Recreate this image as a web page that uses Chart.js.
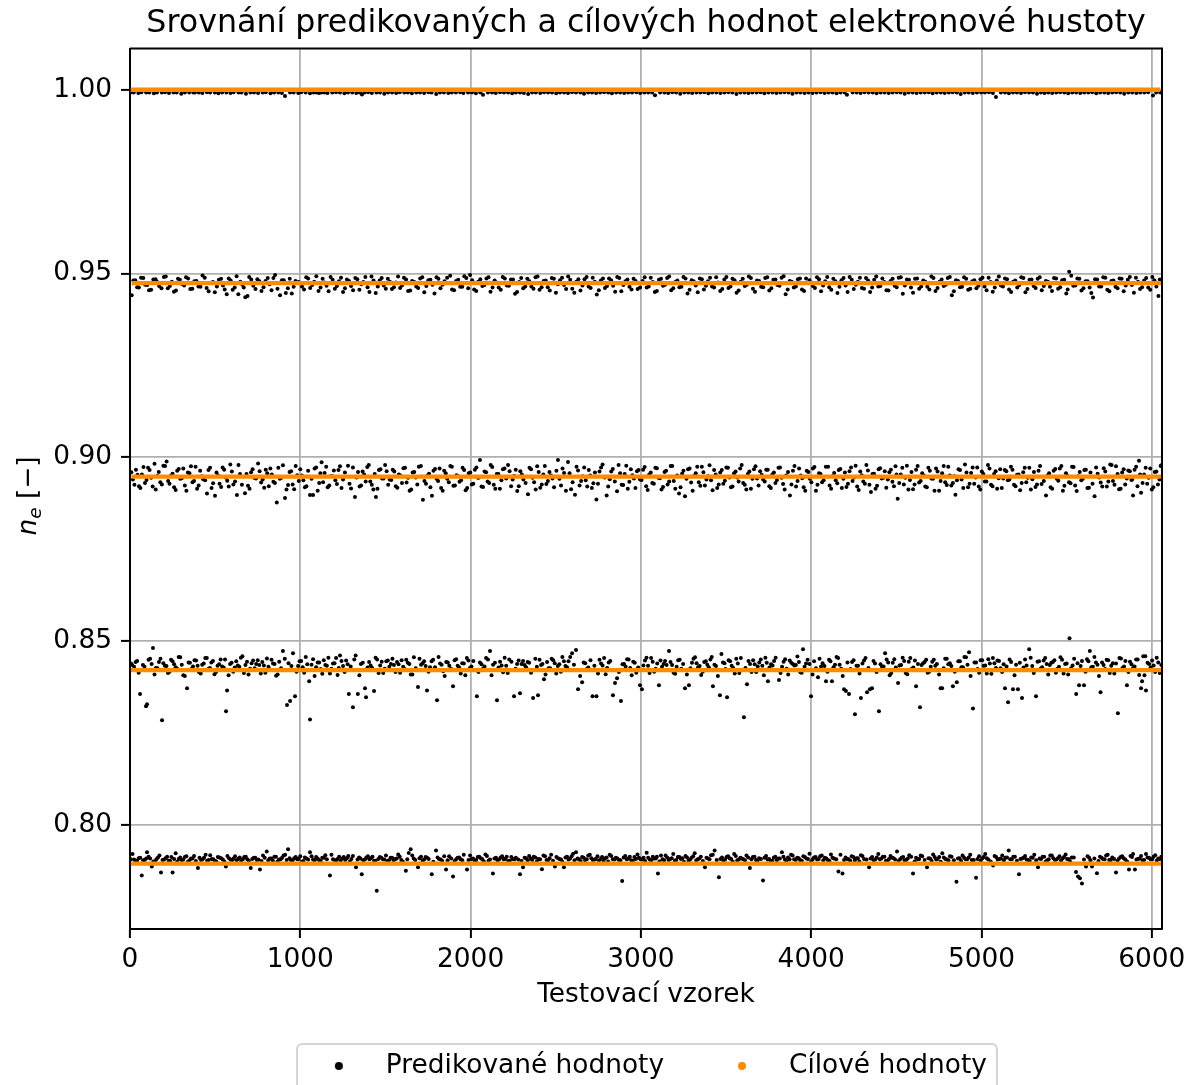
<!DOCTYPE html>
<html>
<head>
<meta charset="utf-8">
<script src="https://cdn.jsdelivr.net/npm/chart.js@4.4.1/dist/chart.umd.min.js"></script>
<style>
html,body{margin:0;padding:0;background:#fff;}
#wrap{width:1197px;height:1085px;position:relative;}
</style>
</head>
<body>
<div id="wrap"><canvas id="c" width="1197" height="1085"></canvas></div>
<script>
// ---------- texts ----------
const TITLE = 'Srovnání predikovaných a cílových hodnot elektronové hustoty';
const X_LABEL = 'Testovací vzorek';
const SERIES_NAMES = ['Predikované hodnoty', 'Cílové hodnoty'];

// ---------- axes ----------
const X_TICKS = [0, 1000, 2000, 3000, 4000, 5000, 6000];
const Y_TICKS = [0.80, 0.85, 0.90, 0.95, 1.00];
const X_MAX = 6060;
const Y_MIN = 0.7717, Y_MAX = 1.0112;

// ---------- target levels (cílové hodnoty) ----------
const TARGET_LEVELS = [1.0, 0.947368, 0.894737, 0.842105, 0.789474];

// ---------- samples per level: [sample index, predicted − target in units of 1e-4] ----------
const samplesL1 = [
[4,-8],[22,-8],[49,-9],[67,-7],[95,-8],[113,-8],[140,-10],[158,-8],[187,-8],[206,-7],[229,-9],[255,-8],[274,-8],[301,-11],[322,-8],[348,-8],
[404,-8],[425,-9],[452,-7],[470,-8],[498,-8],[519,-10],[541,-8],[566,-8],[590,-9],[608,-7],[637,-8],[655,-8],[681,-11],[707,-8],[728,-8],[752,-9],[779,-8],[797,-7],[825,-10],[846,-8],[871,-8],[892,-9],[910,-17],[940,-8],[961,-8],[988,-9],[1006,-7],[1031,-8],[1057,-10],[1078,-8],[1096,-8],
[1142,-8],[1160,-9],[1188,-8],[1210,-7],[1233,-8],[1259,-10],[1280,-8],[1305,-8],[1329,-9],[1350,-8],[1362,-13],[1377,-8],[1398,-7],[1420,-9],[1447,-8],[1468,-8],[1493,-11],[1515,-8],[1539,-8],[1563,-9],[1584,-7],[1611,-8],[1632,-8],[1655,-10],[1681,-8],[1703,-8],[1727,-9],[1752,-7],[1771,-8],[1798,-12],[1820,-8],[1843,-8],[1869,-9],[1890,-8],[1914,-8],[1939,-7],[1958,-9],[1985,-8],[2008,-8],[2031,-10],[2057,-8],[2073,-14],[2102,-8],[2126,-8],[2148,-9],[2173,-7],[2196,-8],[2220,-8],[2244,-10],[2266,-8],[2290,-8],[2313,-9],[2338,-12],[2361,-8],[2383,-8],[2409,-9],[2431,-7],[2455,-8],[2478,-8],[2503,-10],[2525,-8],[2549,-8],[2572,-9],[2596,-7],[2619,-8],[2644,-8],[2666,-11],[2690,-8],[2713,-8],[2737,-9],[2761,-8],[2784,-7],[2808,-8],[2830,-10],[2855,-8],[2878,-8],[2902,-9],[2925,-8],[2948,-8],[2973,-7],[2996,-9],
[3020,-8],[3043,-8],[3066,-8],[3083,-15],[3113,-8],[3138,-8],[3160,-9],[3184,-7],[3207,-8],[3231,-11],[3255,-8],[3278,-8],[3301,-9],[3326,-8],[3349,-8],[3372,-7],[3396,-10],[3419,-8],[3443,-8],[3467,-9],[3490,-8],[3513,-7],[3537,-8],[3561,-12],[3584,-8],[3608,-8],[3631,-9],[3654,-8],[3679,-8],[3702,-7],[3725,-10],[3749,-8],[3773,-8],[3796,-9],[3819,-8],[3843,-7],[3867,-8],[3890,-11],[3914,-8],[3937,-8],[3961,-9],[3984,-8],
[4008,-9],[4031,-8],[4055,-7],[4079,-9],[4102,-8],[4125,-8],[4149,-10],[4172,-8],[4196,-8],[4210,-14],[4243,-8],[4267,-8],[4290,-9],[4313,-7],[4337,-8],[4361,-8],[4384,-10],[4408,-8],[4431,-8],[4455,-9],[4478,-8],[4502,-7],[4525,-8],[4549,-11],[4572,-8],[4596,-8],[4619,-9],[4643,-8],[4667,-8],[4690,-7],[4713,-10],[4737,-8],[4761,-8],[4784,-9],[4808,-8],[4831,-7],[4855,-8],[4878,-12],[4902,-8],[4925,-8],[4949,-9],
[4973,-8],[4998,-8],[5020,-8],[5044,-7],[5067,-9],[5085,-20],[5114,-8],[5138,-8],[5161,-10],[5185,-8],[5208,-8],[5232,-9],[5255,-7],[5279,-8],[5302,-8],[5326,-11],[5349,-8],
[5370,-9],[5392,-8],[5415,-9],[5439,-8],[5462,-7],[5486,-8],[5509,-10],[5533,-8],[5556,-8],[5580,-9],[5603,-8],[5627,-8],[5650,-7],[5674,-10],[5697,-8],[5721,-8],[5744,-9],[5768,-8],[5791,-7],[5815,-8],[5838,-11],[5862,-8],[5885,-8],[5909,-9],[5932,-8],[5956,-8],[5979,-7],[6007,-16],[6026,-8],[6050,-8],
[372,-8],[381,-8],[1110,-9],[1124,-8]
];

const samplesL2 = [
[10,-33],[31,8],[52,-12],[78,14],[101,-5],[124,-18],[150,11],[171,-8],[199,17],[222,-14],[246,4],[270,-20],[293,9],[318,-6],[341,13],[366,-15],[390,6],[414,-10],[439,15],[462,-22],[487,3],[510,-9],[535,12],[556,-17],[568,-30],[591,7],[615,-12],[626,19],[636,-30],[660,-4],[677,-38],[690,-35],[712,10],[737,-16],[760,5],[784,-11],[809,14],[831,-19],[852,22],[881,-33],[903,8],[927,-14],[950,-28],[972,6],
[1010,-9],[1035,16],[1058,-13],[1082,4],[1107,-21],[1131,12],[1154,-7],[1178,17],[1203,-15],[1227,5],[1251,-24],[1274,10],[1298,-8],[1323,14],[1347,-18],[1370,3],[1395,-11],[1418,18],[1443,-27],[1466,7],[1490,-6],[1514,12],[1538,-16],[1561,2],[1586,-13],[1609,15],[1633,-21],[1657,6],[1681,-9],[1704,13],[1728,-25],[1752,8],[1776,-4],[1800,16],[1823,-14],[1847,5],[1880,20],[1903,-19],[1927,9],[1951,-10],[1975,14],[1997,22],[2021,-17],[2045,4],[2069,-8],[2093,13],[2117,-23],[2141,7],[2165,-12],[2189,17],[2213,-6],[2237,10],[2261,-29],[2285,3],[2309,-14],[2333,12],
[2357,-9],[2381,16],[2405,-18],[2429,6],[2453,-11],[2477,14],[2501,-26],[2525,8],[2549,-5],[2573,18],[2597,-15],[2621,4],[2645,-20],[2669,11],[2693,-9],[2717,15],[2741,-31],[2765,7],[2789,-13],[2813,13],[2837,-7],[2861,17],[2885,-22],[2909,5],[2933,-10],[2957,12],[2981,-16],
[3010,6],[3034,-12],[3058,15],[3082,-24],[3106,9],[3130,-7],[3154,14],[3178,-19],[3202,3],[3226,-11],[3250,17],[3274,-28],[3298,8],[3322,-6],[3346,13],[3370,-17],[3394,5],[3418,-9],[3442,16],[3466,-21],[3490,10],[3514,-13],[3538,12],[3562,-26],[3586,4],[3610,-8],[3634,18],[3658,-15],[3682,7],[3706,-10],[3730,14],[3754,-20],[3778,9],[3802,-5],[3826,15],[3850,-30],[3874,6],[3898,-12],[3922,11],[3946,-17],[3970,13],
[4010,-8],[4034,16],[4058,-22],[4082,5],[4106,-11],[4130,12],[4154,-27],[4178,8],[4202,-6],[4226,17],[4250,-16],[4274,4],[4298,-13],[4322,14],[4346,-24],[4370,9],[4394,-9],[4418,13],[4442,-19],[4466,6],[4490,-7],[4514,15],[4538,-29],[4562,10],[4586,-12],[4610,12],[4634,-15],[4658,7],[4682,-10],[4706,18],[4730,-21],[4754,4],[4778,-8],[4802,14],[4826,-33],[4850,8],[4874,-11],[4898,16],[4922,-18],[4946,5],[4970,-14],
[4994,11],[5018,-9],[5042,15],[5066,-23],[5090,7],[5114,-6],[5138,13],[5162,-17],[5186,4],[5210,-12],[5234,16],[5258,-25],[5282,9],[5306,-8],[5330,12],[5354,-19],[5378,6],[5402,-10],[5426,14],[5450,-15],[5474,8],[5498,-28],[5515,31],[5539,-7],[5563,13],[5587,-20],[5611,5],[5635,-12],[5655,-39],[5679,10],[5703,-9],[5727,15],[5751,-22],[5775,7],[5799,-14],[5823,12],[5847,-6],[5871,17],[5895,-26],[5919,4],[5943,-11],[5967,14],[5991,-18],[6015,8],[6039,-35],[6055,5]
];
const samplesL2b = [
[20,7],[42,-11],[65,15],[89,-4],[112,-19],[137,10],[160,3],[185,-14],[210,18],[234,-8],[258,-23],[282,12],[305,-2],[329,16],[354,-16],[378,5],[402,-9],[426,21],[450,-13],[475,1],[498,-25],[522,9],[546,-6],[580,13],[603,-18],[648,4],[668,-12],[700,17],[724,-7],[748,11],[772,-21],[796,6],[820,-3],[842,14],[866,-15],[892,8],[915,-27],[938,12],[961,-10],[990,3],[1022,-17],[1046,13],[1070,-5],[1094,19],[1119,-12],[1142,2],[1166,-22],[1190,9],[1215,-8],[1239,15],[1262,-14],[1286,6],[1310,-19],[1335,11],[1358,-3],[1382,17],[1406,-24],[1430,7],[1455,-9],[1478,14],[1502,-15],[1526,4],[1550,-11],[1574,18],[1597,-6],[1621,10],[1645,-20],[1669,3],[1692,-13],[1716,16],[1740,-8],[1764,9],[1788,-28],[1811,12],[1835,-4],[1862,15],[1891,-17],[1915,6],[1939,-10],[1963,19],[1986,-14],[2009,8],[2033,-21],[2057,11],[2081,-5],[2105,16],[2129,-12],[2153,2],[2177,-18],[2201,13],[2225,-7],[2249,10],[2273,-24],[2297,14],[2321,-9],[2345,5],[2369,-15],[2393,18],[2417,-11],[2441,7],[2465,-20],[2489,12],[2513,-3],[2537,15],[2561,-16],[2585,9],[2609,-26],[2633,11],[2657,-6],[2681,17],[2705,-13],[2729,4],[2753,-19],[2777,13],[2801,-8],[2825,8],[2849,-23],[2873,14],[2897,-5],[2921,10],[2945,-17],[2969,6],[2995,-12],[3022,16],[3046,-9],[3070,3],[3094,-21],[3118,12],[3142,-4],[3166,18],[3190,-14],[3214,7],[3238,-10],[3262,13],[3286,-18],[3310,5],[3334,-25],[3358,11],[3382,-7],[3406,15],[3430,-12],[3454,2],[3478,-16],[3502,17],[3526,-9],[3550,8],[3574,-20],[3598,12],[3622,-4],[3646,14],[3670,-23],[3694,6],[3718,-11],[3742,16],[3766,-14],[3790,10],[3814,-7],[3838,19],[3862,-17],[3886,4],[3910,-9],[3934,13],[3958,-21],[3990,8],[4022,-13],[4046,11],[4070,-6],[4094,17],[4118,-18],[4142,5],[4166,-10],[4190,14],[4214,-24],[4238,9],[4262,-4],[4286,15],[4310,-15],[4334,7],[4358,-12],[4382,18],[4406,-8],[4430,3],[4454,-20],[4478,12],[4502,-11],[4526,16],[4550,-6],[4574,9],[4598,-26],[4622,13],[4646,-9],[4670,4],[4694,-17],[4718,14],[4742,-13],[4766,10],[4790,-4],[4814,17],[4838,-22],[4862,6],[4886,-10],[4910,12],[4934,-15],[4958,8],[4982,-7],[5006,15],[5030,-19],[5054,3],[5078,-12],[5102,18],[5126,-9],[5150,11],[5174,-24],[5198,7],[5222,-5],[5246,14],[5270,-16],[5294,10],[5318,-13],[5342,16],[5366,-8],[5390,4],[5414,-21],[5438,13],[5462,-11],[5486,9],[5506,-17],[5527,20],[5551,-6],[5575,12],[5599,-14],[5623,5],[5645,-27],[5667,11],[5691,-9],[5715,16],[5739,-18],[5763,6],[5787,-10],[5811,13],[5835,-22],[5859,9],[5883,-5],[5907,15],[5931,-16],[5955,7],[5979,-12],[6003,17],[6027,-9],[6047,10]
];

const samplesL3 = [
[8,12],[26,-22],[44,5],[61,-31],[79,26],[97,-9],[115,18],[133,-27],[144,35],[160,2],[178,-15],[196,30],[215,41],[232,-19],[250,8],[268,-36],[286,21],[304,-4],[322,-24],[340,11],[358,28],[376,-12],[394,-33],[412,16],[430,-7],[452,-46],[470,24],[488,-18],[499,-52],[517,3],[535,-28],[553,19],[571,-11],[589,33],[607,-21],[628,-50],[646,7],[675,-45],[693,-25],[711,12],[729,-3],[752,36],[770,-16],[788,-30],[806,9],[824,22],[842,-14],[862,-70],[880,-6],[898,31],[910,-58],[928,-23],[946,15],[964,-34],[982,4],[1000,20],[1018,-10],[1036,-26],[1057,-50],[1075,-50],[1093,25],[1111,-17],[1125,39],[1143,10],[1161,-29],[1179,1],[1197,17],[1215,-20],[1233,28],[1251,-8],[1280,30],[1298,-32],[1321,-55],[1339,13],[1357,-24],[1375,6],[1393,26],[1411,-13],[1429,-35],[1444,-55],[1462,18],[1480,-5],[1498,32],[1516,-22],[1534,-9],[1552,14],[1570,-30],[1588,3],[1606,23],[1624,-16],[1642,-38],[1660,11],[1678,-2],[1696,27],[1720,-63],[1738,-19],[1756,8],[1773,-52],[1791,21],[1809,-12],[1827,-31],[1845,16],[1863,-6],[1881,29],[1899,-25],[1917,4],[1935,-14],[1953,24],[1971,-37],[1989,9],[2007,-21],[2025,19],[2043,-3],[2055,45],[2073,-28],[2091,12],[2109,-17],[2127,26],[2145,-33],[2163,7],[2181,-10],[2199,22],[2220,32],[2238,-26],[2256,2],[2274,-39],[2292,15],[2310,-8],[2337,-48],[2355,20],[2373,-15],[2391,28],[2409,-30],[2427,6],[2445,-20],[2463,13],[2481,-5],[2513,45],[2531,-24],[2549,10],[2572,40],[2590,-34],[2613,-49],[2631,17],[2649,-12],[2667,25],[2685,-27],[2703,3],[2721,-18],[2739,-62],[2757,14],[2775,33],[2799,-51],[2817,-7],[2835,21],[2860,-40],[2878,9],[2896,-23],[2914,30],[2932,-14],[2950,4],[2968,-31],[2986,18],[3004,-9],[3022,26],[3040,-36],[3058,11],[3076,-19],[3094,23],[3112,-4],[3130,-28],[3148,16],[3166,-13],[3184,29],[3202,-33],[3224,-46],[3242,8],[3259,-53],[3277,20],[3295,-16],[3313,2],[3331,27],[3349,-25],[3367,12],[3385,-8],[3403,31],[3421,-37],[3439,6],[3457,-21],[3475,18],[3493,-11],[3511,24],[3529,-29],[3547,9],[3565,-2],[3583,22],[3601,-17],[3619,-35],[3637,14],[3655,-6],[3673,28],[3691,-24],[3709,5],[3727,-13],[3745,19],[3763,-31],[3781,11],[3799,-9],[3817,25],[3835,-20],[3853,3],[3875,-51],[3893,16],[3911,-27],[3929,22],[3947,-4],[3965,-38],[3983,13],[4001,-15],[4019,26],[4037,-22],[4055,7],[4073,-10],[4099,27],[4117,-33],[4135,10],[4153,-18],[4171,21],[4189,-6],[4207,-28],[4225,15],[4243,-12],[4261,30],[4279,-36],[4297,4],[4315,-19],[4333,17],[4351,-42],[4369,8],[4387,-25],[4405,23],[4423,-3],[4441,-30],[4459,12],[4477,-14],[4495,28],[4508,-60],[4526,6],[4544,-21],[4562,30],[4580,-9],[4598,-34],[4616,19],[4634,-16],[4652,9],[4670,-27],[4688,24],[4706,-5],[4724,-38],[4742,14],[4760,-12],[4778,29],[4796,-23],[4814,3],[4832,-17],[4847,-49],[4865,20],[4883,-8],[4903,33],[4921,-29],[4939,10],[4957,-19],[4975,25],[4993,-35],[5011,7],[5029,-13],[5047,22],[5065,-26],[5083,15],[5101,-4],[5119,-31],[5137,18],[5155,-10],[5173,27],[5191,-22],[5209,5],[5227,-37],[5245,12],[5263,-15],[5281,24],[5299,-7],[5317,-28],[5335,16],[5353,-20],[5379,-51],[5397,9],[5415,-33],[5433,21],[5451,-11],[5469,29],[5487,-25],[5505,2],[5523,-18],[5541,26],[5559,-39],[5577,13],[5595,-6],[5613,19],[5631,-30],[5664,-53],[5682,8],[5700,-16],[5718,23],[5736,-27],[5756,33],[5772,-12],[5790,28],[5808,-34],[5826,11],[5844,-21],[5862,17],[5880,-9],[5890,-51],[5908,27],[5925,43],[5937,-44],[5955,6],[5973,-19],[5991,22],[6009,-29],[6027,14],[6045,-8],[6056,31]
];
const samplesL3b = [
[17,-8],[35,19],[53,-26],[70,6],[88,-17],[106,24],[124,-3],[151,-35],[169,13],[187,-21],[206,29],[224,-12],[241,3],[259,-29],[277,16],[295,-6],[313,22],[331,-38],[349,9],[367,-15],[385,27],[403,-24],[421,1],[441,-10],[461,18],[479,-31],[508,11],[526,-19],[544,25],[562,-2],[580,-27],[598,14],[617,-13],[637,32],[657,-22],[684,7],[702,-33],[720,20],[740,-5],[761,15],[779,-8],[797,19],[815,-26],[833,6],[851,-17],[871,24],[889,-3],[919,-35],[937,13],[955,-21],[973,29],[991,-12],[1009,3],[1027,-29],[1046,16],[1066,-6],[1084,22],[1102,-38],[1118,9],[1134,-15],[1152,27],[1170,-24],[1188,1],[1206,-10],[1224,18],[1242,-31],[1262,11],[1289,-19],[1309,25],[1330,-2],[1348,-27],[1366,14],[1384,-13],[1402,32],[1420,-22],[1437,7],[1453,-33],[1471,20],[1489,-5],[1507,15],[1525,-8],[1543,19],[1561,-26],[1579,6],[1597,-17],[1615,24],[1633,-3],[1651,-35],[1669,13],[1687,-21],[1708,29],[1729,-12],[1747,3],[1764,-29],[1782,16],[1800,-6],[1818,22],[1836,-38],[1854,9],[1872,-15],[1890,27],[1908,-24],[1926,1],[1944,-10],[1962,18],[1980,-31],[1998,11],[2016,-19],[2034,25],[2049,-2],[2064,-27],[2082,14],[2100,-13],[2118,32],[2136,-22],[2154,7],[2172,-33],[2190,20],[2209,-5],[2229,15],[2247,-8],[2265,19],[2283,-26],[2301,6],[2323,-17],[2346,24],[2364,-3],[2382,-35],[2400,13],[2418,-21],[2436,29],[2454,-12],[2472,3],[2490,-29],[2504,16],[2522,-6],[2540,22],[2560,-38],[2581,9],[2599,-15],[2622,27],[2640,-24],[2658,1],[2676,-10],[2694,18],[2712,-31],[2730,11],[2748,-19],[2766,25],[2787,-2],[2808,-27],[2826,14],[2847,-13],[2869,32],[2887,-22],[2905,7],[2923,-33],[2941,20],[2959,-5],[2977,15],[2995,-8],[3013,19],[3031,-26],[3049,6],[3067,-17],[3085,24],[3103,-3],[3121,-35],[3139,13],[3157,-21],[3175,29],[3193,-12],[3213,3],[3233,-29],[3250,16],[3268,-6],[3286,22],[3304,-38],[3322,9],[3340,-15],[3358,27],[3376,-24],[3394,1],[3412,-10],[3430,18],[3448,-31],[3466,11],[3484,-19],[3502,25],[3520,-2],[3538,-27],[3556,14],[3574,-13],[3592,32],[3610,-22],[3628,7],[3646,-33],[3664,20],[3682,-5],[3700,15],[3718,-8],[3736,19],[3754,-26],[3772,6],[3790,-17],[3808,24],[3826,-3],[3844,-35],[3864,13],[3884,-21],[3902,29],[3920,-12],[3938,3],[3956,-29],[3974,16],[3992,-6],[4010,22],[4028,-38],[4046,9],[4064,-15],[4086,27],[4108,-24],[4126,1],[4144,-10],[4162,18],[4180,-31],[4198,11],[4216,-19],[4234,25],[4252,-2],[4270,-27],[4288,14],[4306,-13],[4324,32],[4342,-22],[4360,7],[4378,-33],[4396,20],[4414,-5],[4432,15],[4450,-8],[4468,19],[4486,-26],[4501,6],[4517,-17],[4535,24],[4553,-3],[4571,-35],[4589,13],[4607,-21],[4625,29],[4643,-12],[4661,3],[4679,-29],[4697,16],[4715,-6],[4733,22],[4751,-38],[4769,9],[4787,-15],[4805,27],[4823,-24],[4840,1],[4856,-10],[4874,18],[4893,-31],[4912,11],[4930,-19],[4948,25],[4966,-2],[4984,-27],[5002,14],[5020,-13],[5038,32],[5056,-22],[5074,7],[5092,-33],[5110,20],[5128,-5],[5146,15],[5164,-8],[5182,19],[5200,-26],[5218,6],[5236,-17],[5254,24],[5272,-3],[5290,-35],[5308,13],[5326,-21],[5344,29],[5366,-12],[5388,3],[5406,-29],[5424,16],[5442,-6],[5460,22],[5478,-38],[5496,9],[5514,-15],[5532,27],[5550,-24],[5568,1],[5586,-10],[5604,18],[5622,-31],[5640,11],[5652,-19],[5673,25],[5691,-2],[5709,-27],[5727,14],[5745,-13],[5764,32],[5781,-22],[5799,7],[5817,-33],[5835,20],[5853,-5],[5871,15],[5885,-8],[5899,19],[5916,-26],[5931,6],[5946,-17],[5964,24],[5982,-3],[6000,-35],[6018,13],[6036,-21],[6052,29]
];

const samplesL4 = [
[6,18],[24,9],[42,25],[59,-65],[76,14],[94,-98],[100,-93],[118,31],[135,60],[152,6],[170,22],[188,-136],[205,12],[223,-8],[241,28],[259,16],[277,4],[295,35],[313,-14],[335,-49],[352,20],[370,10],[388,26],[406,-6],[424,15],[442,33],[460,3],[478,21],[496,-11],[514,12],[532,29],[550,7],[564,-112],[570,-55],[588,17],[606,-4],[624,24],[642,9],[660,38],[678,14],[696,-12],[714,19],[732,5],[750,27],[768,-9],[786,13],[804,32],[822,2],[840,18],[858,-15],[876,23],[898,52],[922,-95],[940,-84],[957,46],[969,-71],[987,11],[1005,25],[1023,-7],[1041,16],[1052,-30],[1057,-134],[1075,30],[1093,8],[1111,21],[1129,-10],[1147,14],[1165,34],[1183,4],[1201,19],[1219,-13],[1233,40],[1251,11],[1269,26],[1285,-65],[1309,-101],[1325,40],[1338,-65],[1356,17],[1380,-49],[1386,-74],[1404,22],[1422,6],[1433,-57],[1451,29],[1469,13],[1487,-8],[1505,24],[1523,9],[1541,31],[1559,-5],[1577,16],[1595,27],[1613,3],[1631,20],[1649,-12],[1667,35],[1691,-46],[1709,15],[1727,24],[1744,-55],[1762,8],[1780,28],[1803,-82],[1821,18],[1839,-3],[1857,22],[1875,12],[1897,-44],[1915,30],[1933,7],[1951,19],[1969,-14],[1987,26],[2005,10],[2037,-71],[2055,21],[2073,4],[2091,33],[2114,52],[2132,15],[2155,-82],[2173,23],[2191,-6],[2209,12],[2227,29],[2255,-71],[2273,17],[2290,-63],[2308,25],[2326,8],[2344,20],[2367,-76],[2380,31],[2396,-68],[2414,14],[2431,-25],[2449,22],[2467,5],[2485,27],[2503,-9],[2521,16],[2539,36],[2557,11],[2575,24],[2596,46],[2619,55],[2631,-52],[2655,-33],[2673,19],[2691,7],[2716,-71],[2739,-71],[2757,28],[2775,13],[2793,-11],[2811,21],[2836,-68],[2848,-35],[2860,-22],[2883,-84],[2901,17],[2919,30],[2937,6],[2955,23],[2973,-7],[2995,-41],[3006,-52],[3024,26],[3042,12],[3060,33],[3078,-4],[3096,18],[3106,-41],[3124,9],[3142,25],[3165,52],[3183,14],[3201,-10],[3219,27],[3237,4],[3259,-49],[3282,-41],[3300,20],[3318,35],[3336,8],[3354,-13],[3372,22],[3390,15],[3408,29],[3423,-44],[3441,11],[3464,-68],[3473,44],[3491,19],[3506,-74],[3524,24],[3542,6],[3560,31],[3578,-8],[3605,-128],[3623,-38],[3641,17],[3659,27],[3677,-5],[3695,21],[3713,12],[3731,34],[3746,-30],[3764,16],[3782,25],[3811,-27],[3829,9],[3847,30],[3865,-12],[3883,20],[3901,13],[3919,37],[3937,-6],[3952,57],[3970,18],[3999,-71],[4017,24],[4040,-19],[4058,10],[4087,-30],[4105,28],[4122,-30],[4140,15],[4158,33],[4176,4],[4193,-52],[4204,-57],[4222,-65],[4240,22],[4257,-120],[4275,12],[4292,-76],[4310,26],[4328,-60],[4345,-52],[4357,-49],[4375,18],[4398,-112],[4416,9],[4434,46],[4452,21],[4470,-8],[4488,30],[4510,-35],[4528,14],[4546,25],[4564,-11],[4582,33],[4600,7],[4616,-44],[4639,-101],[4657,19],[4675,28],[4693,-4],[4711,23],[4729,12],[4760,-49],[4769,-49],[4787,31],[4805,16],[4832,-44],[4855,-33],[4873,24],[4891,8],[4909,35],[4927,49],[4950,-104],[4968,21],[4986,-7],[5004,27],[5022,13],[5040,30],[5058,-10],[5076,19],[5094,26],[5112,5],[5138,-49],[5156,-87],[5174,22],[5185,-52],[5203,15],[5214,-52],[5238,-76],[5256,29],[5280,57],[5298,11],[5320,-71],[5338,24],[5356,8],[5374,33],[5392,-12],[5410,20],[5428,27],[5446,4],[5464,35],[5482,-9],[5500,18],[5517,87],[5535,13],[5556,-65],[5573,-41],[5590,25],[5602,-41],[5620,30],[5636,52],[5654,9],[5672,21],[5699,-60],[5717,14],[5735,28],[5753,-8],[5771,19],[5801,-117],[5819,32],[5837,10],[5854,-41],[5872,23],[5890,6],[5908,29],[5926,-13],[5937,-49],[5943,-30],[5950,38],[5962,38],[5966,-55],[5984,17],[6002,26],[6020,-5],[6038,21],[6056,14]
];
const samplesL4b = [
[13,14],[33,22],[51,-7],[85,9],[109,28],[127,17],[144,-12],[161,5],[179,31],[196,19],[214,11],[232,-4],[250,24],[268,8],[286,36],[304,15],[322,-16],[344,21],[361,3],[379,27],[397,12],[415,-9],[433,18],[451,33],[469,6],[487,25],[505,-5],[523,16],[541,10],[558,29],[579,-14],[597,20],[615,7],[633,13],[651,34],[669,-8],[687,23],[705,4],[723,26],[741,17],[759,14],[777,22],[795,-7],[813,9],[831,28],[849,17],[867,-12],[887,5],[909,31],[931,19],[948,11],[978,-4],[996,24],[1014,8],[1032,36],[1066,15],[1084,-16],[1102,21],[1120,3],[1138,27],[1156,12],[1174,-9],[1192,18],[1210,33],[1226,6],[1242,25],[1260,-5],[1278,16],[1296,10],[1317,29],[1347,-14],[1367,20],[1395,7],[1413,13],[1442,34],[1460,-8],[1478,23],[1496,4],[1514,26],[1532,17],[1550,14],[1568,22],[1586,-7],[1604,9],[1622,28],[1640,17],[1658,-12],[1678,5],[1700,31],[1718,19],[1736,11],[1753,-4],[1771,24],[1791,8],[1812,36],[1830,15],[1848,-16],[1866,21],[1886,3],[1906,27],[1924,12],[1942,-9],[1960,18],[1978,33],[1996,6],[2016,25],[2046,-5],[2064,16],[2082,10],[2102,29],[2123,-14],[2143,20],[2164,7],[2182,13],[2200,34],[2218,-8],[2240,23],[2264,4],[2282,26],[2299,17],[2317,14],[2335,22],[2355,-7],[2389,9],[2405,28],[2422,17],[2440,-12],[2458,5],[2476,31],[2494,19],[2512,11],[2530,-4],[2548,24],[2566,8],[2585,36],[2607,15],[2643,-16],[2664,21],[2682,3],[2704,27],[2727,12],[2748,-9],[2766,18],[2784,33],[2802,6],[2820,25],[2871,-5],[2892,16],[2910,10],[2928,29],[2946,-14],[2964,20],[2984,7],[3015,13],[3033,34],[3051,-8],[3069,23],[3087,4],[3115,26],[3133,17],[3151,14],[3174,22],[3192,-7],[3210,9],[3228,28],[3248,17],[3270,-12],[3291,5],[3309,31],[3327,19],[3345,11],[3363,-4],[3381,24],[3399,8],[3416,36],[3432,15],[3452,-16],[3482,21],[3497,3],[3515,27],[3533,12],[3551,-9],[3569,18],[3587,33],[3614,6],[3632,25],[3650,-5],[3668,16],[3686,10],[3704,29],[3722,-14],[3739,20],[3755,7],[3773,13],[3791,34],[3820,-8],[3838,23],[3856,4],[3874,26],[3892,17],[3910,14],[3928,22],[3944,-7],[3961,9],[3979,28],[3990,17],[4008,-12],[4028,5],[4049,31],[4067,19],[4078,11],[4096,-4],[4113,24],[4131,8],[4149,36],[4167,15],[4185,-16],[4213,21],[4231,3],[4249,27],[4266,12],[4284,-9],[4301,18],[4319,33],[4336,6],[4366,25],[4384,-5],[4407,16],[4425,10],[4443,29],[4461,-14],[4479,20],[4497,7],[4519,13],[4537,34],[4555,-8],[4573,23],[4591,4],[4609,26],[4627,17],[4648,14],[4666,22],[4684,-7],[4702,9],[4720,28],[4738,17],[4751,-12],[4778,5],[4796,31],[4814,19],[4823,11],[4843,-4],[4864,24],[4882,8],[4900,36],[4918,15],[4936,-16],[4959,21],[4977,3],[4995,27],[5013,12],[5031,-9],[5049,18],[5067,33],[5085,6],[5103,25],[5121,-5],[5130,16],[5147,10],[5165,29],[5194,-14],[5225,20],[5247,7],[5265,13],[5289,34],[5307,-8],[5329,23],[5347,4],[5365,26],[5383,17],[5401,14],[5419,22],[5437,-7],[5455,9],[5473,28],[5491,17],[5509,-12],[5526,5],[5544,31],[5564,19],[5582,11],[5611,-4],[5628,24],[5645,8],[5663,36],[5681,15],[5690,-16],[5708,21],[5726,3],[5744,27],[5762,12],[5780,-9],[5790,18],[5810,33],[5828,6],[5845,25],[5863,-5],[5881,16],[5899,10],[5917,29],[5957,-14],[5975,20],[5993,7],[6011,13],[6029,34],[6047,-8]
];

const samplesL5 = [
[5,12],[15,26],[33,8],[51,15],[69,-32],[86,10],[100,31],[118,14],[128,-8],[146,6],[164,17],[182,-24],[200,11],[218,19],[236,7],[250,-24],[268,28],[286,13],[304,9],[322,18],[340,5],[358,14],[376,21],[399,-12],[417,10],[435,16],[453,8],[471,23],[489,12],[507,6],[525,17],[545,11],[563,-8],[581,15],[599,9],[617,20],[635,13],[653,7],[671,18],[689,12],[709,-12],[727,16],[745,10],[763,-16],[781,22],[803,33],[821,14],[839,8],[857,19],[875,11],[893,16],[911,24],[928,39],[946,9],[964,15],[982,12],[1000,20],[1018,7],[1036,14],[1057,31],[1075,11],[1093,18],[1111,9],[1129,16],[1147,23],[1174,-32],[1192,12],[1210,8],[1228,19],[1246,14],[1264,10],[1282,21],[1300,13],[1327,-10],[1345,17],[1361,-29],[1379,11],[1397,20],[1415,15],[1433,8],[1449,-74],[1467,18],[1485,12],[1503,22],[1521,9],[1539,16],[1557,13],[1575,25],[1593,10],[1620,-19],[1637,29],[1648,39],[1666,14],[1691,-10],[1709,19],[1727,11],[1745,16],[1772,-29],[1797,36],[1815,13],[1833,8],[1856,-16],[1874,20],[1897,-35],[1915,12],[1933,17],[1951,9],[1979,-16],[1997,22],[2015,14],[2033,10],[2051,19],[2069,12],[2087,25],[2105,8],[2131,-27],[2149,16],[2167,11],[2185,20],[2203,13],[2221,7],[2239,18],[2257,12],[2290,-29],[2308,-10],[2326,15],[2344,21],[2362,10],[2380,17],[2398,13],[2419,-15],[2437,20],[2455,9],[2473,24],[2495,-8],[2513,15],[2531,11],[2548,-10],[2566,19],[2584,14],[2602,27],[2619,31],[2637,12],[2655,18],[2673,9],[2691,22],[2709,15],[2727,11],[2745,20],[2763,13],[2781,8],[2799,17],[2817,24],[2835,12],[2853,16],[2871,10],[2890,-47],[2908,21],[2926,14],[2944,9],[2962,18],[2980,25],[2998,12],[3016,16],[3034,30],[3052,11],[3070,19],[3088,14],[3100,-27],[3118,22],[3136,9],[3154,17],[3172,13],[3190,26],[3208,10],[3226,18],[3244,15],[3262,21],[3280,8],[3298,16],[3316,28],[3334,12],[3352,19],[3376,-10],[3394,14],[3412,23],[3433,36],[3458,-37],[3476,17],[3494,11],[3512,20],[3530,13],[3548,26],[3566,9],[3584,16],[3602,12],[3620,22],[3640,-12],[3658,18],[3676,10],[3694,15],[3717,-46],[3735,21],[3753,13],[3771,8],[3789,19],[3807,14],[3828,31],[3846,11],[3864,17],[3882,24],[3900,12],[3918,16],[3936,9],[3954,20],[3972,14],[3990,27],[4008,11],[4026,18],[4044,13],[4062,22],[4080,16],[4098,10],[4116,25],[4134,14],[4160,-21],[4184,-27],[4202,17],[4220,12],[4238,20],[4256,9],[4274,15],[4292,23],[4310,13],[4340,-10],[4358,18],[4376,11],[4394,26],[4412,14],[4430,19],[4448,8],[4466,21],[4484,15],[4504,33],[4522,12],[4540,18],[4558,10],[4576,23],[4598,-27],[4616,16],[4634,13],[4652,20],[4680,-10],[4698,14],[4716,25],[4734,11],[4752,18],[4770,28],[4788,13],[4806,9],[4824,19],[4853,-49],[4871,15],[4889,22],[4907,12],[4925,17],[4943,10],[4968,-38],[4986,20],[5004,14],[5022,26],[5040,11],[5068,-5],[5086,18],[5104,13],[5122,22],[5140,16],[5160,36],[5178,12],[5196,19],[5220,-29],[5238,14],[5256,21],[5274,10],[5292,17],[5310,24],[5332,-10],[5350,13],[5368,19],[5386,9],[5404,22],[5422,15],[5440,11],[5458,20],[5476,14],[5494,25],[5512,12],[5530,17],[5555,-23],[5567,-35],[5578,-40],[5590,-54],[5614,-8],[5632,16],[5649,-8],[5678,-26],[5696,19],[5714,13],[5732,22],[5750,10],[5768,17],[5790,-24],[5808,14],[5826,20],[5844,11],[5866,-16],[5884,18],[5890,26],[5901,-16],[5919,13],[5937,21],[5955,10],[5966,26],[5984,16],[6002,12],[6020,23],[6038,14],[6056,19]
];
const samplesL5b = [
[24,11],[42,7],[60,16],[77,9],[95,14],[109,19],[137,6],[155,12],[173,22],[191,10],[209,15],[227,8],[243,18],[259,13],[277,5],[295,17],[313,11],[331,20],[349,9],[367,14],[387,7],[408,16],[426,12],[444,24],[462,10],[480,13],[498,8],[516,18],[535,15],[554,6],[572,21],[590,11],[608,14],[626,9],[644,17],[662,12],[680,19],[698,8],[718,13],[736,16],[754,11],[772,7],[791,16],[812,9],[830,14],[848,19],[866,6],[884,12],[902,22],[920,10],[937,15],[955,8],[973,18],[991,13],[1009,5],[1027,17],[1046,11],[1066,20],[1084,9],[1102,14],[1120,7],[1138,16],[1156,12],[1183,24],[1201,10],[1219,13],[1237,8],[1255,18],[1273,15],[1291,6],[1309,21],[1336,11],[1353,14],[1370,9],[1388,17],[1406,12],[1424,19],[1441,8],[1458,13],[1476,16],[1494,11],[1512,7],[1530,16],[1548,9],[1566,14],[1584,19],[1602,6],[1628,12],[1657,22],[1675,10],[1700,15],[1718,8],[1736,18],[1754,13],[1781,5],[1806,17],[1824,11],[1845,20],[1865,9],[1886,14],[1906,7],[1924,16],[1942,12],[1960,24],[1988,10],[2006,13],[2024,8],[2042,18],[2060,15],[2078,6],[2096,21],[2114,11],[2140,14],[2158,9],[2176,17],[2194,12],[2212,19],[2230,8],[2248,13],[2266,16],[2280,11],[2299,7],[2317,16],[2335,9],[2353,14],[2371,19],[2389,6],[2408,12],[2428,22],[2446,10],[2464,15],[2484,8],[2504,18],[2522,13],[2539,5],[2557,17],[2575,11],[2593,20],[2610,9],[2628,14],[2646,7],[2664,16],[2682,12],[2700,24],[2718,10],[2736,13],[2754,8],[2772,18],[2790,15],[2808,6],[2826,21],[2844,11],[2862,14],[2880,9],[2899,17],[2917,12],[2935,19],[2953,8],[2971,13],[2989,16],[3007,11],[3025,7],[3043,16],[3061,9],[3079,14],[3094,19],[3109,6],[3127,12],[3145,22],[3163,10],[3181,15],[3199,8],[3217,18],[3235,13],[3253,5],[3271,17],[3289,11],[3307,20],[3325,9],[3343,14],[3364,7],[3385,16],[3403,12],[3422,24],[3445,10],[3467,13],[3485,8],[3503,18],[3521,15],[3539,6],[3557,21],[3575,11],[3593,14],[3611,9],[3630,17],[3649,12],[3667,19],[3685,8],[3705,13],[3726,16],[3744,11],[3762,7],[3780,16],[3798,9],[3816,14],[3837,19],[3855,6],[3873,12],[3891,22],[3909,10],[3927,15],[3945,8],[3963,18],[3981,13],[3999,5],[4017,17],[4035,11],[4053,20],[4071,9],[4089,14],[4107,7],[4125,16],[4147,12],[4172,24],[4193,10],[4211,13],[4229,8],[4247,18],[4265,15],[4283,6],[4301,21],[4325,11],[4349,14],[4367,9],[4385,17],[4403,12],[4421,19],[4439,8],[4457,13],[4475,16],[4493,11],[4513,7],[4531,16],[4549,9],[4567,14],[4587,19],[4607,6],[4625,12],[4643,22],[4666,10],[4689,15],[4707,8],[4725,18],[4743,13],[4761,5],[4779,17],[4797,11],[4815,20],[4838,9],[4862,14],[4880,7],[4898,16],[4916,12],[4934,24],[4955,10],[4977,13],[4995,8],[5013,18],[5031,15],[5054,6],[5077,21],[5095,11],[5113,14],[5131,9],[5150,17],[5169,12],[5187,19],[5208,8],[5229,13],[5247,16],[5265,11],[5283,7],[5301,16],[5321,9],[5341,14],[5359,19],[5377,6],[5395,12],[5413,22],[5431,10],[5449,15],[5467,8],[5485,18],[5503,13],[5521,5],[5542,17],[5602,11],[5623,20],[5640,9],[5663,14],[5687,7],[5705,16],[5723,12],[5741,24],[5759,10],[5779,13],[5799,8],[5817,18],[5835,15],[5855,6],[5875,21],[5910,11],[5928,14],[5946,9],[5975,17],[5993,12],[6011,19],[6029,8],[6047,13]
];

// ---------- build the library's data from the arrays ----------
const LEVEL_SAMPLES = [
  [samplesL1],
  [samplesL2, samplesL2b],
  [samplesL3, samplesL3b],
  [samplesL4, samplesL4b],
  [samplesL5, samplesL5b]
];
const predictedData = [];
const targetData = [];
LEVEL_SAMPLES.forEach((lists, k) => {
  const t = TARGET_LEVELS[k];
  const all = [].concat(...lists).sort((a, b) => a[0] - b[0]);
  all.forEach(([s, d]) => {
    predictedData.push({x: s, y: t + d * 1e-4});
    targetData.push({x: s, y: t});
  });
  targetData.push({x: all[all.length - 1][0], y: null}); // break between levels
});

const FONT = 'DejaVu Sans';
const FS = 26.4;
const COL_PRED = '#000000';
const COL_TGT = '#ff8c00';
Chart.defaults.font.family = FONT;
Chart.defaults.color = '#000';

function dotImage(color, r) {
  const c = document.createElement('canvas');
  c.width = 2 * r + 2; c.height = 2 * r + 2;
  const g = c.getContext('2d');
  g.fillStyle = color;
  g.beginPath(); g.arc(r + 1, r + 1, r, 0, Math.PI * 2); g.fill();
  return c;
}
const LEGEND_DOTS = [dotImage(COL_PRED, 4), dotImage(COL_TGT, 4)];

const framePlugin = {
  id: 'frame',
  afterDraw(chart) {
    const {ctx, chartArea: a} = chart;
    ctx.save();
    ctx.strokeStyle = '#000'; ctx.lineWidth = 2;
    ctx.beginPath();
    ctx.moveTo(a.left, a.top); ctx.lineTo(a.right, a.top); ctx.lineTo(a.right, a.bottom);
    ctx.stroke();
    // legend frame
    const hb = chart.legend.legendHitBoxes;
    if (hb && hb.length) {
      const last = hb[hb.length - 1];
      const l = hb[0].left - 8, r = last.left + last.width + 10;
      const cy = hb[0].top + hb[0].height / 2;
      const t = cy - 22;
      ctx.strokeStyle = '#d4d4d4'; ctx.lineWidth = 2;
      ctx.beginPath();
      ctx.roundRect(l, t, r - l, 90, 5);
      ctx.stroke();
    }
    // y axis label: n_e [−]
    ctx.translate(36, 496);
    ctx.rotate(-Math.PI / 2);
    ctx.fillStyle = '#000';
    ctx.textBaseline = 'alphabetic';
    const f1 = 'italic ' + FS + 'px "' + FONT + '"', f2 = 'italic ' + (FS * 0.7) + 'px "' + FONT + '"', f3 = FS + 'px "' + FONT + '"';
    ctx.font = f1; const w1 = ctx.measureText('n').width;
    ctx.font = f2; const w2 = ctx.measureText('e').width;
    ctx.font = f3; const w3 = ctx.measureText(' [−]').width;
    let x = -(w1 + w2 + w3) / 2;
    ctx.font = f1; ctx.fillText('n', x, 0); x += w1;
    ctx.font = f2; ctx.fillText('e', x, 5); x += w2;
    ctx.font = f3; ctx.fillText(' [−]', x, 0);
    ctx.restore();
  }
};

new Chart(document.getElementById('c'), {
  type: 'scatter',
  data: {
    datasets: [
      {
        label: SERIES_NAMES[0],
        data: predictedData,
        pointRadius: 2.0,
        pointHoverRadius: 2.0,
        pointBackgroundColor: COL_PRED,
        pointBorderWidth: 0,
        showLine: false,
        order: 2
      },
      {
        label: SERIES_NAMES[1],
        data: targetData,
        showLine: true,
        pointRadius: 0,
        pointHoverRadius: 0,
        borderColor: COL_TGT,
        borderWidth: 4.4,
        borderCapStyle: 'butt',
        spanGaps: false,
        order: 1
      }
    ]
  },
  options: {
    responsive: false,
    animation: false,
    events: [],
    layout: {padding: {left: 0, right: 35, top: 0, bottom: -4.2}},
    plugins: {
      title: {
        display: true, text: TITLE, fullSize: false, color: '#000',
        font: {family: FONT, size: 31.7, weight: 'normal'},
        padding: {top: 5, bottom: 5.46}
      },
      legend: {
        position: 'bottom', fullSize: false,
        labels: {
          usePointStyle: true, pointStyleWidth: 67.6,
          font: {family: FONT, size: FS}, color: '#000', padding: 44.2,
          generateLabels: chart => chart.data.datasets.map((ds, i) => ({
            text: ds.label, pointStyle: LEGEND_DOTS[i], fillStyle: i ? COL_TGT : COL_PRED,
            strokeStyle: i ? COL_TGT : COL_PRED, lineWidth: 0, hidden: false, datasetIndex: i
          }))
        }
      },
      tooltip: {enabled: false}
    },
    scales: {
      x: {
        type: 'linear', min: 0, max: X_MAX, z: 1,
        afterBuildTicks: s => { s.ticks = X_TICKS.map(v => ({value: v})); },
        afterFit: s => { s.height = 79.6; },
        ticks: {font: {family: FONT, size: FS}, color: '#000', padding: 6, maxRotation: 0, autoSkip: false, callback: v => String(v)},
        grid: {color: '#b0b0b0', lineWidth: 1.8, tickColor: '#000', tickLength: 9, tickWidth: 2},
        border: {color: '#000', width: 2},
        title: {display: true, text: X_LABEL, color: '#000', font: {family: FONT, size: FS, lineHeight: 1}, padding: {top: 0, bottom: 0}}
      },
      y: {
        type: 'linear', min: Y_MIN, max: Y_MAX, z: 1,
        afterBuildTicks: s => { s.ticks = Y_TICKS.map(v => ({value: v})); },
        afterFit: s => { s.width = 130; },
        ticks: {font: {family: FONT, size: FS}, color: '#000', padding: 9, autoSkip: false, callback: v => v.toFixed(2)},
        grid: {color: '#b0b0b0', lineWidth: 1.8, tickColor: '#000', tickLength: 9, tickWidth: 2},
        border: {color: '#000', width: 2}
      }
    }
  },
  plugins: [framePlugin]
});
</script>
</body>
</html>
